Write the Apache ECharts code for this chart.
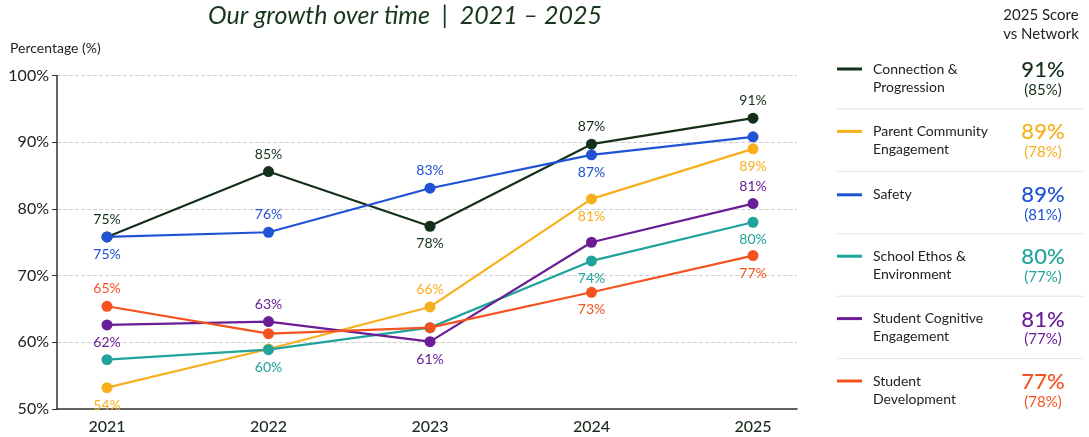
<!DOCTYPE html>
<html>
<head>
<meta charset="utf-8">
<script src="https://cdn.jsdelivr.net/npm/echarts@6/dist/echarts.min.js"></script>
<style>
html,body{margin:0;padding:0;background:#fff;}
#chart{width:1089px;height:437px;}
</style>
</head>
<body>
<div id="chart"></div>
<script>
// ---- data ----
const years = ['2021', '2022', '2023', '2024', '2025'];
const seriesNames = ['Connection & Progression', 'Parent Community Engagement', 'Safety',
  'School Ethos & Environment', 'Student Cognitive Engagement', 'Student Development'];
const legendLabels = ['Connection &\nProgression', 'Parent Community\nEngagement', 'Safety',
  'School Ethos &\nEnvironment', 'Student Cognitive\nEngagement', 'Student\nDevelopment'];
const colors = ['#14301a', '#f7af1d', '#1f52d4', '#1fa39a', '#6a1d95', '#f4521f'];

const connection = [75.8, 85.6, 77.4, 89.7, 93.6];
const parent = [53.2, 59.0, 65.3, 81.5, 89.0];
const safety = [75.8, 76.5, 83.1, 88.1, 90.8];
const ethos = [57.4, 58.9, 62.2, 72.2, 78.0];
const cognitive = [62.6, 63.1, 60.1, 75.0, 80.8];
const development = [65.4, 61.3, 62.2, 67.5, 73.0];

const connectionLabels = ['75%', '85%', '78%', '87%', '91%'];
const parentLabels = ['54%', '', '66%', '81%', '89%'];
const safetyLabels = ['75%', '76%', '83%', '87%', ''];
const ethosLabels = ['', '60%', '', '74%', '80%'];
const cognitiveLabels = ['62%', '63%', '61%', '', '81%'];
const developmentLabels = ['65%', '', '', '73%', '77%'];

const connectionPos = ['top', 'top', 'bottom', 'top', 'top'];
const parentPos = ['bottom', 'top', 'top', 'bottom', 'bottom'];
const safetyPos = ['bottom', 'top', 'top', 'bottom', 'top'];
const ethosPos = ['bottom', 'bottom', 'bottom', 'bottom', 'bottom'];
const cognitivePos = ['bottom', 'top', 'bottom', 'top', 'top'];
const developmentPos = ['top', 'top', 'top', 'bottom', 'bottom'];

const score2025 = ['91%', '89%', '89%', '80%', '81%', '77%'];
const networkScore = ['(85%)', '(78%)', '(81%)', '(77%)', '(77%)', '(78%)'];

const yTicks = [50, 60, 70, 80, 90, 100];

// ---- build ----
const allValues = [connection, parent, safety, ethos, cognitive, development];
const allLabels = [connectionLabels, parentLabels, safetyLabels, ethosLabels, cognitiveLabels, developmentLabels];
const allPos = [connectionPos, parentPos, safetyPos, ethosPos, cognitivePos, developmentPos];
const FONT = 'Lato, "Open Sans", sans-serif';

const series = allValues.map((vals, i) => ({
  name: seriesNames[i],
  type: 'line',
  xAxisIndex: 0,
  yAxisIndex: 0,
  symbol: 'circle',
  symbolSize: 11,
  lineStyle: { width: 2.2, color: colors[i] },
  itemStyle: { color: colors[i] },
  emphasis: { disabled: true },
  animation: false,
  data: vals.map((v, j) => ({
    value: v,
    label: {
      show: allLabels[i][j] !== '',
      position: allPos[i][j],
      distance: 5,
      formatter: allLabels[i][j],
      color: colors[i],
      fontFamily: FONT,
      fontSize: 14
    }
  }))
}));

const graphic = [
  { type: 'text',
    style: { text: 'Our growth over time  |  2021 \u2013 2025', x: 405, y: 16, textAlign: 'center', textVerticalAlign: 'middle',
      font: 'italic 400 25px ' + FONT, fill: '#17361c' } },
  { type: 'text', style: { text: 'Percentage (%)', x: 10, y: 48, textAlign: 'left', textVerticalAlign: 'middle',
      font: '400 14px ' + FONT, fill: '#222' } },
  { type: 'text', style: { text: '2025 Score\nvs Network', x: 1041, y: 25, textAlign: 'center', textVerticalAlign: 'middle',
      font: '400 15px ' + FONT, fill: '#222', lineHeight: 19 } }
];
legendLabels.forEach((lab, i) => {
  const c = 78 + i * 62.4;
  const twoLine = lab.indexOf('\n') >= 0;
  const markY = twoLine ? c - 9 : c - 8;
  graphic.push({ type: 'line', shape: { x1: 837, y1: markY, x2: 862, y2: markY },
    style: { stroke: colors[i], lineWidth: 3 } });
  graphic.push({ type: 'text', style: { text: lab, x: 873, y: twoLine ? c : c - 8, textAlign: 'left', textVerticalAlign: 'middle',
    font: '400 14px ' + FONT, fill: '#222', lineHeight: 18 } });
  graphic.push({ type: 'text', style: { text: score2025[i], x: 1043, y: c - 8, textAlign: 'center', textVerticalAlign: 'middle',
    font: '500 22px ' + FONT, fill: colors[i] } });
  graphic.push({ type: 'text', style: { text: networkScore[i], x: 1043, y: c + 12, textAlign: 'center', textVerticalAlign: 'middle',
    font: '400 15px ' + FONT, fill: colors[i] } });
  if (i < legendLabels.length - 1) {
    graphic.push({ type: 'line', shape: { x1: 837, y1: c + 31, x2: 1083, y2: c + 31 },
      style: { stroke: '#e2e2e2', lineWidth: 1 } });
  }
});

const option = {
  backgroundColor: '#ffffff',
  animation: false,
  textStyle: { fontFamily: FONT },
  grid: [
    { left: 107, right: 336, top: 75.5, bottom: 28 },
    { left: 57, right: 292, top: 75.5, bottom: 28 }
  ],
  xAxis: [
    { type: 'category', gridIndex: 0, data: years, boundaryGap: false,
      axisLine: { show: false }, axisTick: { show: false }, splitLine: { show: false },
      axisLabel: { color: '#1b2b1e', fontSize: 16, fontWeight: 500, fontFamily: FONT, margin: 10 } },
    { type: 'value', gridIndex: 1, min: 0, max: 1,
      axisLine: { show: true, lineStyle: { color: '#333', width: 1.5 } },
      axisTick: { show: false }, axisLabel: { show: false }, splitLine: { show: false } }
  ],
  yAxis: [
    { type: 'value', gridIndex: 0, min: yTicks[0], max: yTicks[yTicks.length - 1], show: false, splitLine: { show: false } },
    { type: 'value', gridIndex: 1, min: yTicks[0], max: yTicks[yTicks.length - 1], interval: 10,
      axisLine: { show: true, lineStyle: { color: '#333', width: 1.5 } },
      axisTick: { show: true, length: 5, lineStyle: { color: '#333' } },
      axisLabel: { formatter: '{value}%', color: '#222', fontSize: 16, fontFamily: FONT, margin: 8 },
      splitLine: { show: true, lineStyle: { color: '#cfcfcf', type: 'dashed', width: 1 } } }
  ],
  graphic: graphic,
  series: series
};

const chart = echarts.init(document.getElementById('chart'), null, { renderer: 'canvas' });
chart.setOption(option);
</script>
</body>
</html>
